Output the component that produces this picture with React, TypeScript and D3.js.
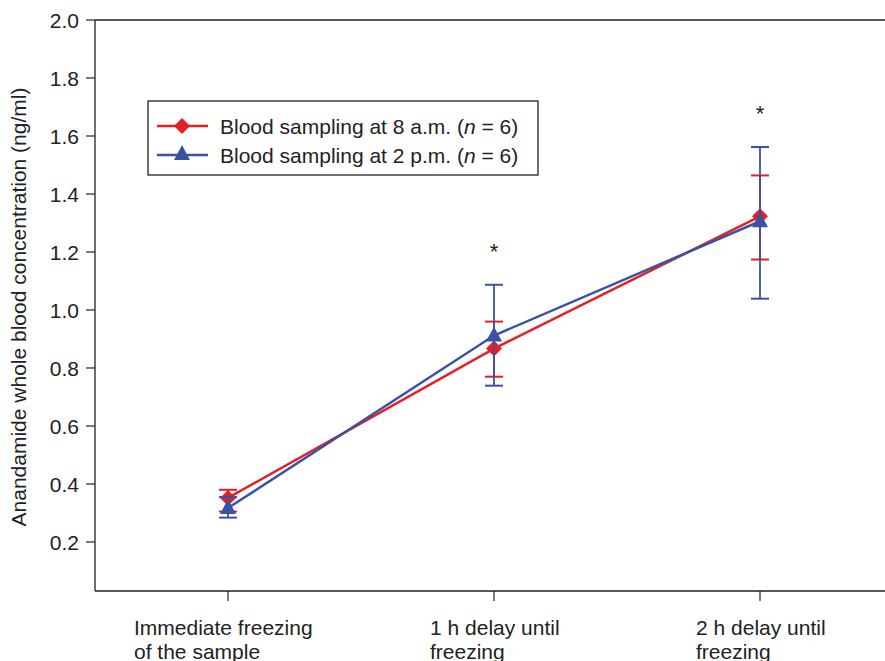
import React from "react";
import * as d3 from "d3";

const categories = ["Immediate freezing|of the sample", "1 h delay until|freezing", "2 h delay until|freezing"];
const seriesNames = ["Blood sampling at 8 a.m.", "Blood sampling at 2 p.m."];
const amMean = [0.352, 0.867, 1.323];
const amLow = [0.305, 0.77, 1.174];
const amHigh = [0.38, 0.96, 1.464];
const pmMean = [0.317, 0.912, 1.306];
const pmLow = [0.284, 0.739, 1.039];
const pmHigh = [0.355, 1.087, 1.562];
const yTicks = [0.2, 0.4, 0.6, 0.8, 1.0, 1.2, 1.4, 1.6, 1.8, 2.0];
const starIdx = [1, 2];

const RED = "#e41f26";
const BLUE = "#3a52a3";
const FONT = "Liberation Sans, Arial, sans-serif";
const FS = 21;

export default function App() {
  const W = 885, H = 661;
  const left = 95, top = 20, bottom = 591;
  const x = d3.scalePoint<number>().domain([0, 1, 2]).range([228, 760]);
  const y = d3.scaleLinear().domain([0.031, 2.0]).range([bottom, top]);
  const line = d3.line<number>().x((_, i) => x(i)!).y((v) => y(v));

  const series = [
    { mean: amMean, lo: amLow, hi: amHigh, color: RED, shape: "diamond" },
    { mean: pmMean, lo: pmLow, hi: pmHigh, color: BLUE, shape: "tri" },
  ];

  const marker = (shape: string, cx: number, cy: number, color: string, key?: string) =>
    shape === "diamond" ? (
      <path key={key} d={`M${cx},${cy - 8}L${cx + 8},${cy}L${cx},${cy + 8}L${cx - 8},${cy}Z`} fill={color} />
    ) : (
      <path key={key} d={`M${cx},${cy - 9}L${cx + 8},${cy + 6}L${cx - 8},${cy + 6}Z`} fill={color} />
    );

  return (
    <svg width={W} height={H} style={{ position: "absolute", left: 0, top: 0, background: "#fff" }} fontFamily={FONT}>
      <rect width={W} height={H} fill="#fff" />
      <line x1={left} x2={W} y1={top} y2={top} stroke="#222" strokeWidth={1.3} />
      <line x1={left} x2={W} y1={bottom} y2={bottom} stroke="#222" strokeWidth={1.3} />
      <line x1={left} x2={left} y1={top} y2={bottom} stroke="#222" strokeWidth={1.3} />
      {yTicks.map((t) => (
        <g key={t}>
          <line x1={left - 9} x2={left} y1={y(t)} y2={y(t)} stroke="#222" strokeWidth={1.2} />
          <text x={79} y={y(t)} dy="0.36em" textAnchor="end" fontSize={FS} fill="#222">
            {t.toFixed(1)}
          </text>
        </g>
      ))}
      {categories.map((c, i) => {
        const lines = c.split("|");
        return (
          <g key={c}>
            <line x1={x(i)} x2={x(i)} y1={bottom} y2={bottom + 10} stroke="#222" strokeWidth={1.2} />
            {lines.map((l, j) => (
              <text key={j} x={x(i)! - (i === 0 ? 94 : 64)} y={635 + j * 24} fontSize={FS} fill="#222">
                {l}
              </text>
            ))}
          </g>
        );
      })}
      <text transform={`translate(26,${307}) rotate(-90)`} textAnchor="middle" fontSize={FS} fill="#222">
        Anandamide whole blood concentration (ng/ml)
      </text>
      {series.map((s, si) => (
        <g key={si}>
          <path d={line(s.mean)!} fill="none" stroke={s.color} strokeWidth={2.5} />
          {s.mean.map((m, i) => (
            <g key={i}>
              <line x1={x(i)} x2={x(i)} y1={y(s.lo[i])} y2={y(s.hi[i])} stroke={s.color} strokeWidth={1.8} />
              <line x1={x(i)! - 9} x2={x(i)! + 9} y1={y(s.lo[i])} y2={y(s.lo[i])} stroke={s.color} strokeWidth={2} />
              <line x1={x(i)! - 9} x2={x(i)! + 9} y1={y(s.hi[i])} y2={y(s.hi[i])} stroke={s.color} strokeWidth={2} />
            </g>
          ))}
          {s.mean.map((m, i) => marker(s.shape, x(i)!, y(m), s.color, "m" + i))}
        </g>
      ))}
      {starIdx.map((i) => (
        <text key={i} x={x(i)} y={y(Math.max(amHigh[i], pmHigh[i])) - 26} textAnchor="middle" fontSize={22} fill="#222">
          *
        </text>
      ))}
      <rect x={148} y={101} width={390} height={74} fill="#fff" stroke="#222" strokeWidth={1.3} />
      {seriesNames.map((n, i) => {
        const ly = 126 + i * 29;
        const s = series[i];
        return (
          <g key={n}>
            <line x1={157} x2={208} y1={ly} y2={ly} stroke={s.color} strokeWidth={2.5} />
            {marker(s.shape, 182, ly + (i === 1 ? -1 : 0), s.color)}
            <text x={220} y={ly} dy="0.36em" fontSize={FS} fill="#222">
              {n} (<tspan fontStyle="italic">n</tspan> = 6)
            </text>
          </g>
        );
      })}
    </svg>
  );
}
